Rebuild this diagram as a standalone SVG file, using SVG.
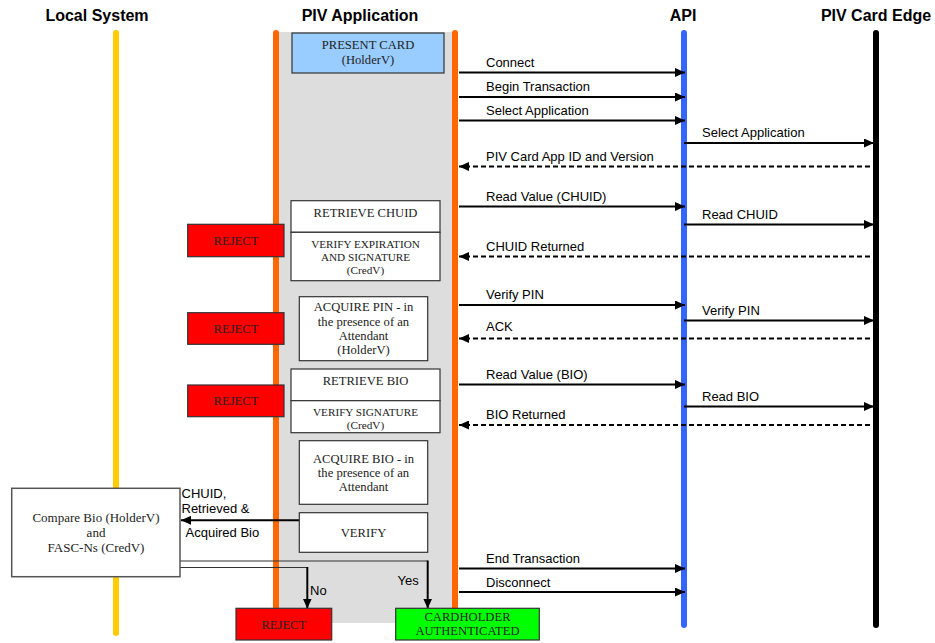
<svg xmlns="http://www.w3.org/2000/svg" width="935" height="643" viewBox="0 0 935 643">
<style>
.hdr{font-family:"Liberation Sans",Arial,sans-serif;font-weight:bold;font-size:16px;fill:#000;text-anchor:middle}
.msg{font-family:"Liberation Sans",Arial,sans-serif;font-size:13px;fill:#000}
.ser{font-family:"Liberation Serif","Times New Roman",serif;font-size:12.6px;fill:#222;text-anchor:middle}
.sm{font-size:11.2px}
.box{fill:#fff;stroke:#333;stroke-width:1.2}
.rej{fill:#ff0000;stroke:#333;stroke-width:1.2}
.ok{fill:#00ff00;stroke:#333;stroke-width:1.2}
.sol{stroke:#000;stroke-width:2;fill:none}
.dash{stroke:#000;stroke-width:2;fill:none;stroke-dasharray:5,3}
.thin{stroke:#333;stroke-width:1.2;fill:none}
.life{stroke-width:6;stroke-linecap:round;fill:none}
</style>
<defs>
<marker id="ah" markerUnits="userSpaceOnUse" markerWidth="11" markerHeight="9" refX="10" refY="4.5" orient="auto">
<path d="M0,0 L10,4.5 L0,9 z" fill="#000"/>
</marker>
</defs>
<rect width="935" height="643" fill="#fff"/>

<g id="headers">
<text class="hdr" x="97" y="21">Local System</text>
<text class="hdr" x="360" y="21">PIV Application</text>
<text class="hdr" x="683" y="21">API</text>
<text class="hdr" x="876" y="21">PIV Card Edge</text>
</g>

<g id="lifelines">
<rect x="276" y="32" width="179" height="591" fill="#dddddd"/>
<line class="life" x1="116" y1="33" x2="116" y2="633" stroke="#ffcc00"/>
<line class="life" x1="276" y1="33" x2="276" y2="615" stroke="#ff6600"/>
<line class="life" x1="455" y1="33" x2="455" y2="615" stroke="#ff6600"/>
<line class="life" x1="684" y1="33" x2="684" y2="625" stroke="#3366ff"/>
<line class="life" x1="876" y1="33" x2="876" y2="625" stroke="#000"/>
</g>

<g id="connectors">
<line class="sol" x1="459" y1="72.5" x2="685" y2="72.5" marker-end="url(#ah)"/>
<line class="sol" x1="459" y1="97" x2="685" y2="97" marker-end="url(#ah)"/>
<line class="sol" x1="459" y1="120.5" x2="685" y2="120.5" marker-end="url(#ah)"/>
<line class="sol" x1="684" y1="143" x2="874" y2="143" marker-end="url(#ah)"/>
<line class="dash" x1="870" y1="166.5" x2="459" y2="166.5" marker-end="url(#ah)"/>
<line class="sol" x1="459" y1="206.5" x2="685" y2="206.5" marker-end="url(#ah)"/>
<line class="sol" x1="684" y1="224.5" x2="874" y2="224.5" marker-end="url(#ah)"/>
<line class="dash" x1="870" y1="256.5" x2="459" y2="256.5" marker-end="url(#ah)"/>
<line class="sol" x1="459" y1="305" x2="685" y2="305" marker-end="url(#ah)"/>
<line class="sol" x1="684" y1="320.5" x2="874" y2="320.5" marker-end="url(#ah)"/>
<line class="dash" x1="870" y1="338.5" x2="459" y2="338.5" marker-end="url(#ah)"/>
<line class="sol" x1="459" y1="384.5" x2="685" y2="384.5" marker-end="url(#ah)"/>
<line class="sol" x1="684" y1="406.5" x2="874" y2="406.5" marker-end="url(#ah)"/>
<line class="dash" x1="870" y1="425" x2="459" y2="425" marker-end="url(#ah)"/>
<line class="sol" x1="459" y1="568.5" x2="685" y2="568.5" marker-end="url(#ah)"/>
<line class="sol" x1="459" y1="592" x2="685" y2="592" marker-end="url(#ah)"/>
<line class="sol" x1="300" y1="520.3" x2="181" y2="520.3" stroke-width="2.5" marker-end="url(#ah)"/>
<polyline class="thin" points="180,561 427.7,561"/>
<line class="sol" x1="427.7" y1="560.5" x2="427.7" y2="608.5" marker-end="url(#ah)"/>
<polyline class="thin" points="180,567.5 307.3,567.5"/>
<line class="sol" x1="307.3" y1="567" x2="307.3" y2="608.5" marker-end="url(#ah)"/>
<text class="msg" x="486" y="67">Connect</text>
<text class="msg" x="486" y="91">Begin Transaction</text>
<text class="msg" x="486" y="115">Select Application</text>
<text class="msg" x="702" y="137">Select Application</text>
<text class="msg" x="486" y="161">PIV Card App ID and Version</text>
<text class="msg" x="486" y="201">Read Value (CHUID)</text>
<text class="msg" x="702" y="219">Read CHUID</text>
<text class="msg" x="486" y="251">CHUID Returned</text>
<text class="msg" x="486" y="299">Verify PIN</text>
<text class="msg" x="702" y="315">Verify PIN</text>
<text class="msg" x="486" y="331">ACK</text>
<text class="msg" x="486" y="379">Read Value (BIO)</text>
<text class="msg" x="702" y="401">Read BIO</text>
<text class="msg" x="486" y="419">BIO Returned</text>
<text class="msg" x="486" y="563">End Transaction</text>
<text class="msg" x="486" y="587">Disconnect</text>
<text class="msg" x="181.5" y="497.5">CHUID,</text>
<text class="msg" x="181.5" y="512.5">Retrieved &amp;</text>
<text class="msg" x="185.5" y="537">Acquired Bio</text>
<text class="msg" x="310" y="594.5">No</text>
<text class="msg" x="397.5" y="585">Yes</text>
</g>

<g id="present-card">
<rect x="292" y="33" width="152" height="40" fill="#99ccff" stroke="#333" stroke-width="1.2"/>
<text class="ser" x="368" y="49">PRESENT CARD</text>
<text class="ser" x="368" y="64">(HolderV)</text>
</g>

<g id="retrieve-chuid">
<rect class="box" x="291" y="200.7" width="149" height="31.6"/>
<text class="ser" x="365.5" y="217">RETRIEVE CHUID</text>
</g>

<g id="verify-expiration">
<rect class="box" x="291" y="232.3" width="149" height="48.4"/>
<text class="ser sm" x="365.5" y="248">VERIFY EXPIRATION</text>
<text class="ser sm" x="365.5" y="261">AND SIGNATURE</text>
<text class="ser sm" x="365.5" y="274">(CredV)</text>
</g>

<g id="reject-1">
<rect class="rej" x="187.7" y="224.3" width="96.3" height="32.4"/>
<text class="ser" x="236" y="244.5">REJECT</text>
</g>

<g id="acquire-pin">
<rect class="box" x="299.3" y="296.7" width="128.4" height="64"/>
<text class="ser" x="363.5" y="310.5">ACQUIRE PIN - in</text>
<text class="ser" x="363.5" y="325.5">the presence of an</text>
<text class="ser" x="363.5" y="339.5">Attendant</text>
<text class="ser" x="363.5" y="353.5">(HolderV)</text>
</g>

<g id="reject-2">
<rect class="rej" x="187.7" y="312.7" width="96.3" height="31.6"/>
<text class="ser" x="236" y="332.5">REJECT</text>
</g>

<g id="retrieve-bio">
<rect class="box" x="291" y="369" width="149" height="31.7"/>
<text class="ser" x="365.5" y="385">RETRIEVE BIO</text>
</g>

<g id="verify-signature">
<rect class="box" x="291" y="400.7" width="149" height="32"/>
<text class="ser sm" x="365.5" y="416">VERIFY SIGNATURE</text>
<text class="ser sm" x="365.5" y="428.5">(CredV)</text>
</g>

<g id="reject-3">
<rect class="rej" x="187.7" y="385" width="96.3" height="31.7"/>
<text class="ser" x="236" y="405">REJECT</text>
</g>

<g id="acquire-bio">
<rect class="box" x="299.3" y="440.7" width="128.4" height="63.6"/>
<text class="ser" x="363.5" y="462.5">ACQUIRE BIO - in</text>
<text class="ser" x="363.5" y="476.5">the presence of an</text>
<text class="ser" x="363.5" y="490.5">Attendant</text>
</g>

<g id="verify">
<rect class="box" x="299.3" y="512.7" width="128.4" height="39.6"/>
<text class="ser" x="363.5" y="537">VERIFY</text>
</g>

<g id="compare-bio">
<rect x="11.7" y="488.3" width="168.3" height="88.4" fill="#fff" stroke="#555" stroke-width="1.5"/>
<text class="ser" x="96" y="522" style="font-size:13px">Compare Bio (HolderV)</text>
<text class="ser" x="96" y="537" style="font-size:13px">and</text>
<text class="ser" x="96" y="551.5" style="font-size:13px">FASC-Ns (CredV)</text>
</g>

<g id="reject-final">
<rect class="rej" x="236" y="608.3" width="95.7" height="31.7"/>
<text class="ser" x="283.8" y="628.5">REJECT</text>
</g>

<g id="cardholder-authenticated">
<rect class="ok" x="395.7" y="608.3" width="143.6" height="31.7"/>
<text class="ser" x="467.5" y="621">CARDHOLDER</text>
<text class="ser" x="467.5" y="634.5">AUTHENTICATED</text>
</g>
</svg>
